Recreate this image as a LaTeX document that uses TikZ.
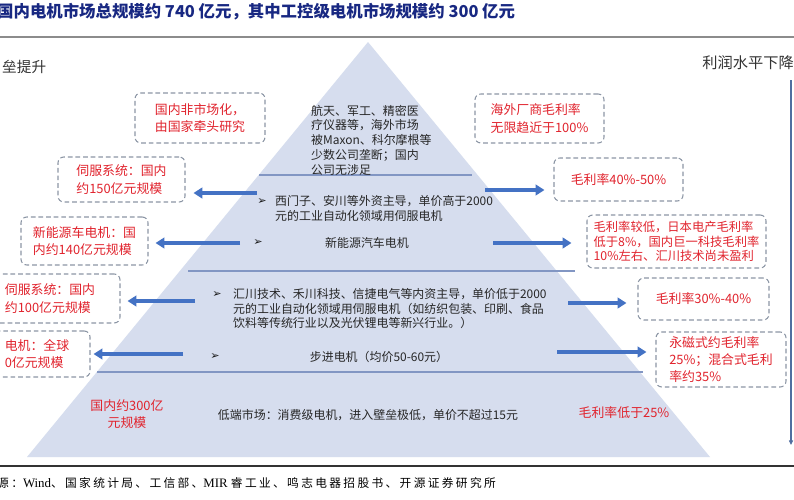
\documentclass[tikz,border=0pt]{standalone}
\usepackage{fontspec}
\setmainfont{Noto Sans CJK SC}
\newfontfamily\symfont{DejaVu Sans}
\newfontfamily\latinserif{Liberation Serif}
\usetikzlibrary{arrows.meta}
\definecolor{cTitle}{RGB}{24,40,130}
\definecolor{cRed}  {RGB}{225,35,45}
\definecolor{cPyr}  {RGB}{214,221,238}
\definecolor{cSep}  {RGB}{130,150,195}
\definecolor{cFlow} {RGB}{68,114,196}
\definecolor{cTag}  {RGB}{140,150,165}
\definecolor{cAxis} {RGB}{80,110,160}

\begin{document}
\begin{tikzpicture}[
  x=0.03cm,y=-0.03cm,
  % dashed call-out boxes, red text
  tag/.style={draw=cTag,dashed,dash pattern=on 4pt off 2.5pt,line width=0.9pt,
              rounded corners=5pt,align=left,text=cRed,inner sep=2pt,
              font=\fontsize{11}{15}\selectfont},
  red/.style={text=cRed,align=center,font=\fontsize{11}{15}\selectfont},
  txt/.style={text=black!85,align=left,inner sep=0pt,font=\fontsize{10.2}{12.6}\selectfont},
  bul/.style={text=black!90,inner sep=0pt,font=\symfont\fontsize{9.5}{10}\selectfont},
  sep/.style={draw=cSep,line width=1.2pt},
  flow/.style={-{Triangle[length=7.5pt,width=9pt]},draw=cFlow,line width=3.2pt},
]
\clip (0,0) rectangle (794,499);
\fill[white] (0,0) rectangle (794,499);

% ------------------------------------------------------------------ frame
\node[anchor=west,text=cTitle,inner sep=0pt,font=\fontsize{14}{17}\selectfont\bfseries]
      (title) at (-3,12) {国内电机市场总规模约 740 亿元，其中工控级电机市场规模约 300 亿元};
\draw[black!45,line width=1.6pt] (0,37) -- (794,37);
\draw[black!80,line width=1.2pt] (0,466) -- (794,466);
\node[anchor=west,inner sep=0pt,font=\fontsize{10}{12}\selectfont\addfontfeatures{LetterSpace=20}]
      (src) at (-3,483) {源：{\latinserif\fontsize{11}{12}\selectfont Wind}、国家统计局、工信部、{\latinserif\fontsize{11}{12}\selectfont MIR }睿工业、鸣志电器招股书、开源证券研究所};

\node[anchor=west,inner sep=0pt,text=black!80,font=\fontsize{12.5}{14}\selectfont] (up)   at (2,67)   {垒提升};
\node[anchor=east,inner sep=0pt,text=black!80,font=\fontsize{13}{14}\selectfont]   (down) at (794,63) {利润水平下降};
\coordinate (axtop) at (791,80);
\coordinate (axbot) at (791,445);
\draw[-{Triangle[length=4pt,width=3.5pt]},draw=cAxis,line width=0.9pt] (axtop) -- (axbot);

% ------------------------------------------------------------------ pyramid
\fill[cPyr] (27,457) -- (368,42) -- (710,457) -- cycle;
\draw[sep] (259,175) -- (472,175);
\draw[sep] (188,271) -- (575,271);
\draw[sep] (97,372)  -- (643,372);

% ------------------------------------------------------------------ tiers
\node[txt,anchor=west] (top) at (311,140)
      {航天、军工、精密医\\疗仪器等，海外市场\\被Maxon、科尔摩根等\\少数公司垄断；国内\\公司无涉足};

\node[bul] (b1) at (262,202) {➢};
\node[txt,anchor=north west] (foreign) at (275,195)
      {西门子、安川等外资主导，单价高于2000\\元的工业自动化领域用伺服电机};
\node[bul] (b2) at (258,243) {➢};
\node[txt] (nev) at (367,243) {新能源汽车电机};

\node[bul] (b3) at (217,295) {➢};
\node[txt,anchor=north west] (domestic) at (233,288)
      {汇川技术、禾川科技、信捷电气等内资主导，单价低于2000\\元的工业自动化领域用伺服电机（如纺织包装、印刷、食品\\饮料等传统行业以及光伏锂电等新兴行业。）};
\node[bul] (b4) at (215,357) {➢};
\node[txt] (step) at (379,357) {步进电机（均价50-60元）};

\node[txt] (low)  at (368,415) {低端市场：消费级电机，进入壁垒极低，单价不超过15元};
\node[red] (low300) at (127,414) {国内约300亿\\元规模};
\node[red] (low25)  at (624,413) {毛利率低于25\%};

% ------------------------------------------------------------------ left call-outs
\node[tag,minimum width=3.9cm, minimum height=1.5cm]  (state)  at (200,118)   {国内非市场化，\\由国家牵头研究};
\node[tag,minimum width=3.81cm,minimum height=1.35cm] (sv150)  at (121.5,179.5) {伺服系统：国内\\约150亿元规模};
\node[tag,minimum width=3.81cm,minimum height=1.44cm] (nev140) at (84.5,241)  {新能源车电机：国\\内约140亿元规模};
\node[tag,minimum width=4.2cm, minimum height=1.47cm] (sv100)  at (50,298.5)  {伺服系统：国内\\约100亿元规模};
\node[tag,minimum width=3.18cm,minimum height=1.38cm] (stp)    at (37,354)    {电机：全球\\0亿元规模};

% ------------------------------------------------------------------ right call-outs
\node[tag,minimum width=3.87cm,minimum height=1.47cm] (gm100) at (539.5,118.5) {海外厂商毛利率\\无限趋近于100\%};
\node[tag,minimum width=3.87cm,minimum height=1.29cm] (gm40)  at (618.5,179.5) {毛利率40\%-50\%};
\node[tag,minimum width=5.37cm,minimum height=1.59cm,font=\fontsize{10.5}{12.6}\selectfont]
      (gmlow) at (676.5,241.5) {毛利率较低，日本电产毛利率\\低于8\%，国内巨一科技毛利率\\10\%左右、汇川技术尚未盈利};
\node[tag,minimum width=3.93cm,minimum height=1.26cm] (gm30)  at (703.5,299) {毛利率30\%-40\%};
\node[tag,minimum width=3.9cm, minimum height=1.65cm,font=\fontsize{11}{14.3}\selectfont]
      (gm25)  at (721,359.5) {永磁式约毛利率\\25\%；混合式毛利\\率约35\%};

% ------------------------------------------------------------------ arrows
\coordinate (l1) at (257,193);
\coordinate (l2) at (240,243);
\coordinate (l3) at (195,301);
\coordinate (l4) at (183,354);
\draw[flow,shorten >=6.8pt] (l1) -- (l1 -| sv150.east);
\draw[flow,shorten >=6pt]   (l2) -- (l2 -| nev140.east);
\draw[flow,shorten >=6pt]   (l3) -- (l3 -| sv100.east);
\draw[flow,shorten >=2.6pt] (l4) -- (l4 -| stp.east);

\coordinate (r1) at (485,190);
\coordinate (r2) at (493,243);
\coordinate (r3) at (568,303);
\coordinate (r4) at (557,352);
\draw[flow,shorten >=7.7pt]  (r1) -- (r1 -| gm40.west);
\draw[flow,shorten >=12.8pt] (r2) -- (r2 -| gmlow.west);
\draw[flow,shorten >=9.4pt]  (r3) -- (r3 -| gm30.west);
\draw[flow,shorten >=7.7pt]  (r4) -- (r4 -| gm25.west);

\end{tikzpicture}
\end{document}
